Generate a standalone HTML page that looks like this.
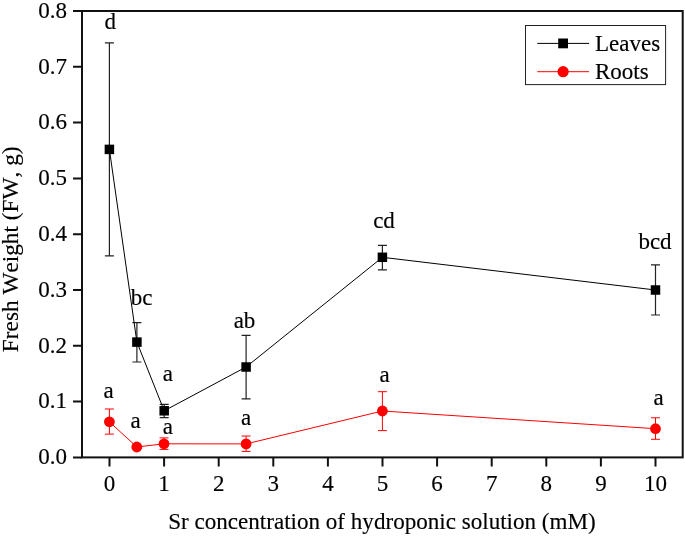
<!DOCTYPE html>
<html><head><meta charset="utf-8"><title>Fresh Weight vs Sr concentration</title>
<style>html,body{margin:0;padding:0;background:#fff;}svg{display:block;}text{font-kerning:none;stroke:#000;stroke-width:0.15px;font-family:"Liberation Serif","Times New Roman",Times,serif;fill:#000;}</style></head><body>
<svg width="685" height="536" viewBox="0 0 685 536">
<rect x="0" y="0" width="685" height="536" fill="#fff"/>
<path d="M109.4 42.9V255.8M104.9 42.9H113.9M104.9 255.8H113.9" stroke="#222" stroke-width="1.2" fill="none"/>
<path d="M136.9 322.6V362.0M132.4 322.6H141.4M132.4 362.0H141.4" stroke="#222" stroke-width="1.2" fill="none"/>
<path d="M164.2 404.4V417.6M159.7 404.4H168.7M159.7 417.6H168.7" stroke="#222" stroke-width="1.2" fill="none"/>
<path d="M246.1 335.3V398.8M241.6 335.3H250.6M241.6 398.8H250.6" stroke="#222" stroke-width="1.2" fill="none"/>
<path d="M382.4 245.3V269.9M377.9 245.3H386.9M377.9 269.9H386.9" stroke="#222" stroke-width="1.2" fill="none"/>
<path d="M655.5 264.8V315.0M651.0 264.8H660.0M651.0 315.0H660.0" stroke="#222" stroke-width="1.2" fill="none"/>
<path d="M109.4 149.4L136.9 342.1L164.2 410.8L246.1 367.0L382.4 257.3L655.5 290.0" stroke="#000" stroke-width="1" fill="none"/>
<rect x="104.65" y="144.65" width="9.5" height="9.5" fill="#000"/>
<rect x="132.15" y="337.35" width="9.5" height="9.5" fill="#000"/>
<rect x="159.45" y="406.05" width="9.5" height="9.5" fill="#000"/>
<rect x="241.35" y="362.25" width="9.5" height="9.5" fill="#000"/>
<rect x="377.65" y="252.55" width="9.5" height="9.5" fill="#000"/>
<rect x="650.75" y="285.25" width="9.5" height="9.5" fill="#000"/>
<path d="M109.4 409.0V434.1M104.9 409.0H113.9M104.9 434.1H113.9" stroke="#f00" stroke-width="1.0" fill="none"/>
<path d="M164.0 437.9V449.4M159.5 437.9H168.5M159.5 449.4H168.5" stroke="#f00" stroke-width="1.0" fill="none"/>
<path d="M246.1 436.0V451.4M241.6 436.0H250.6M241.6 451.4H250.6" stroke="#f00" stroke-width="1.0" fill="none"/>
<path d="M382.4 391.7V430.6M377.9 391.7H386.9M377.9 430.6H386.9" stroke="#f00" stroke-width="1.0" fill="none"/>
<path d="M655.5 417.8V439.3M651.0 417.8H660.0M651.0 439.3H660.0" stroke="#f00" stroke-width="1.0" fill="none"/>
<path d="M109.4 421.8L136.8 447.0L164.0 443.8L246.1 443.9L382.4 411.0L655.5 428.7" stroke="#f00" stroke-width="1" fill="none"/>
<circle cx="109.4" cy="421.8" r="5.4" fill="#f00"/>
<circle cx="136.8" cy="447.0" r="5.4" fill="#f00"/>
<circle cx="164.0" cy="443.8" r="5.4" fill="#f00"/>
<circle cx="246.1" cy="443.9" r="5.4" fill="#f00"/>
<circle cx="382.4" cy="411.0" r="5.4" fill="#f00"/>
<circle cx="655.5" cy="428.7" r="5.4" fill="#f00"/>
<rect x="82.0" y="11.0" width="600.7" height="446.4" fill="none" stroke="#111" stroke-width="2"/>
<path d="M73.0 457.40H82.0M73.0 401.60H82.0M73.0 345.80H82.0M73.0 290.00H82.0M73.0 234.20H82.0M73.0 178.40H82.0M73.0 122.60H82.0M73.0 66.80H82.0M73.0 11.00H82.0M109.50 457.4V466.6M164.10 457.4V466.6M218.70 457.4V466.6M273.30 457.4V466.6M327.90 457.4V466.6M382.50 457.4V466.6M437.10 457.4V466.6M491.70 457.4V466.6M546.30 457.4V466.6M600.90 457.4V466.6M655.50 457.4V466.6" stroke="#111" stroke-width="2" fill="none"/>
<text x="67.0" y="464.2" font-size="23" text-anchor="end">0.0</text>
<text x="67.0" y="408.4" font-size="23" text-anchor="end">0.1</text>
<text x="67.0" y="352.6" font-size="23" text-anchor="end">0.2</text>
<text x="67.0" y="296.8" font-size="23" text-anchor="end">0.3</text>
<text x="67.0" y="241.0" font-size="23" text-anchor="end">0.4</text>
<text x="67.0" y="185.2" font-size="23" text-anchor="end">0.5</text>
<text x="67.0" y="129.4" font-size="23" text-anchor="end">0.6</text>
<text x="67.0" y="73.6" font-size="23" text-anchor="end">0.7</text>
<text x="67.0" y="17.8" font-size="23" text-anchor="end">0.8</text>
<text x="109.5" y="490.8" font-size="23" text-anchor="middle">0</text>
<text x="164.1" y="490.8" font-size="23" text-anchor="middle">1</text>
<text x="218.7" y="490.8" font-size="23" text-anchor="middle">2</text>
<text x="273.3" y="490.8" font-size="23" text-anchor="middle">3</text>
<text x="327.9" y="490.8" font-size="23" text-anchor="middle">4</text>
<text x="382.5" y="490.8" font-size="23" text-anchor="middle">5</text>
<text x="437.1" y="490.8" font-size="23" text-anchor="middle">6</text>
<text x="491.7" y="490.8" font-size="23" text-anchor="middle">7</text>
<text x="546.3" y="490.8" font-size="23" text-anchor="middle">8</text>
<text x="600.9" y="490.8" font-size="23" text-anchor="middle">9</text>
<text x="655.5" y="490.8" font-size="23" text-anchor="middle">10</text>
<text x="381.95" y="528.7" font-size="23.08" text-anchor="middle">Sr concentration of hydroponic solution (mM)</text>
<text transform="translate(17.7 249.3) rotate(-90)" font-size="23.3" text-anchor="middle">Fresh Weight (FW, g)</text>
<text x="110.2" y="28.8" font-size="23" text-anchor="middle">d</text>
<text x="141.6" y="304.7" font-size="23" text-anchor="middle">bc</text>
<text x="167.8" y="380.7" font-size="23" text-anchor="middle">a</text>
<text x="244.5" y="328.0" font-size="23" text-anchor="middle">ab</text>
<text x="384.0" y="228.4" font-size="23" text-anchor="middle">cd</text>
<text x="655.0" y="249.1" font-size="23" text-anchor="middle">bcd</text>
<text x="108.7" y="397.8" font-size="23" text-anchor="middle">a</text>
<text x="135.5" y="428.1" font-size="23" text-anchor="middle">a</text>
<text x="167.8" y="433.9" font-size="23" text-anchor="middle">a</text>
<text x="246.2" y="425.4" font-size="23" text-anchor="middle">a</text>
<text x="384.5" y="381.6" font-size="23" text-anchor="middle">a</text>
<text x="658.6" y="405.4" font-size="23" text-anchor="middle">a</text>
<rect x="525.5" y="25.5" width="140.1" height="59.1" fill="#fff" stroke="#222" stroke-width="1"/>
<path d="M537.3 43.4H589.1" stroke="#000" stroke-width="1"/>
<rect x="558.2" y="38.5" width="9.8" height="9.8" fill="#000"/>
<path d="M537.3 71.7H589.1" stroke="#f00" stroke-width="1"/>
<circle cx="563.1" cy="71.7" r="5.6" fill="#f00"/>
<text x="595.0" y="50.7" font-size="23">Leaves</text>
<text x="595.0" y="78.8" font-size="23">Roots</text>
</svg></body></html>
